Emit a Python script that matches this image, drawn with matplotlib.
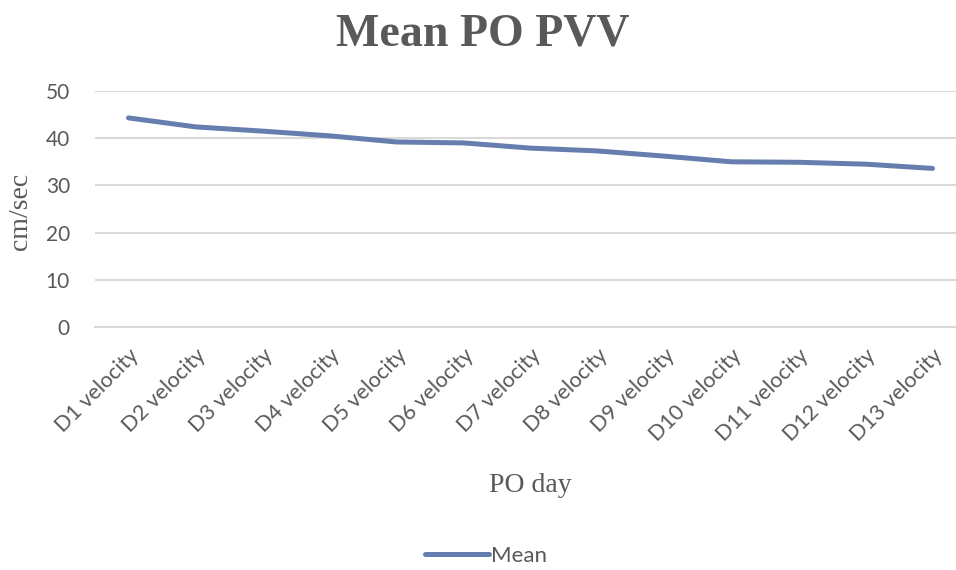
import matplotlib
matplotlib.use("Agg")
import matplotlib.pyplot as plt

categories = ["D1 velocity", "D2 velocity", "D3 velocity", "D4 velocity", "D5 velocity",
              "D6 velocity", "D7 velocity", "D8 velocity", "D9 velocity", "D10 velocity",
              "D11 velocity", "D12 velocity", "D13 velocity"]
mean_values = [44.3, 42.4, 41.5, 40.5, 39.2, 39.0, 37.9, 37.3, 36.2, 35.0, 34.9, 34.5, 33.6]
y_ticks = [0, 10, 20, 30, 40, 50]

TEXT = "#595959"
GRID = "#D9D9D9"
LINE = "#657EAE"

fig = plt.figure(figsize=(9.56, 5.70), dpi=100)
ax = fig.add_axes([95/956, 243/570, (966-95)/956, 236/570])

x = list(range(len(categories)))
ax.plot(x, mean_values, color=LINE, lw=3.6, solid_capstyle="round",
        solid_joinstyle="round", label="Mean", zorder=3)

ax.set_ylim(0, 50)
ax.set_xlim(-0.5, len(categories) - 0.5)
ax.set_yticks(y_ticks)
ax.set_xticks(x)
ax.set_xticklabels(categories, rotation=45, ha="right", va="top",
                   rotation_mode="anchor", fontsize=15.5, color=TEXT, family="Lato")
for lbl in ax.get_yticklabels():
    lbl.set_family("Lato")
ax.tick_params(axis="y", length=0, pad=18, labelsize=15, labelcolor=TEXT)
ax.tick_params(axis="x", length=0, pad=13)
ax.grid(axis="y", color=GRID, lw=1.5)
ax.set_axisbelow(True)
for s in ["top", "right", "left"]:
    ax.spines[s].set_visible(False)
ax.spines["bottom"].set_color(GRID)
ax.spines["bottom"].set_linewidth(1.5)

fig.text(483/956, 1 - 34/570, "Mean PO PVV", ha="center", va="center", fontsize=33,
         fontweight="bold", family="Liberation Serif", color=TEXT)
fig.text(20/956, 1 - 211/570, "cm/sec", rotation=90, ha="center", va="center",
         fontsize=20, family="Liberation Serif", color=TEXT)
fig.text(530/956, 1 - 485/570, "PO day", ha="center", va="center",
         fontsize=20, family="Liberation Serif", color=TEXT)

leg = fig.legend(loc="center", bbox_to_anchor=(486/956, 1 - 556/570), frameon=False,
                 handlelength=2.9, handletextpad=0.1, prop={"family": "Lato", "size": 16})
for t in leg.get_texts():
    t.set_color(TEXT)

fig.savefig("out.png", dpi=100)
